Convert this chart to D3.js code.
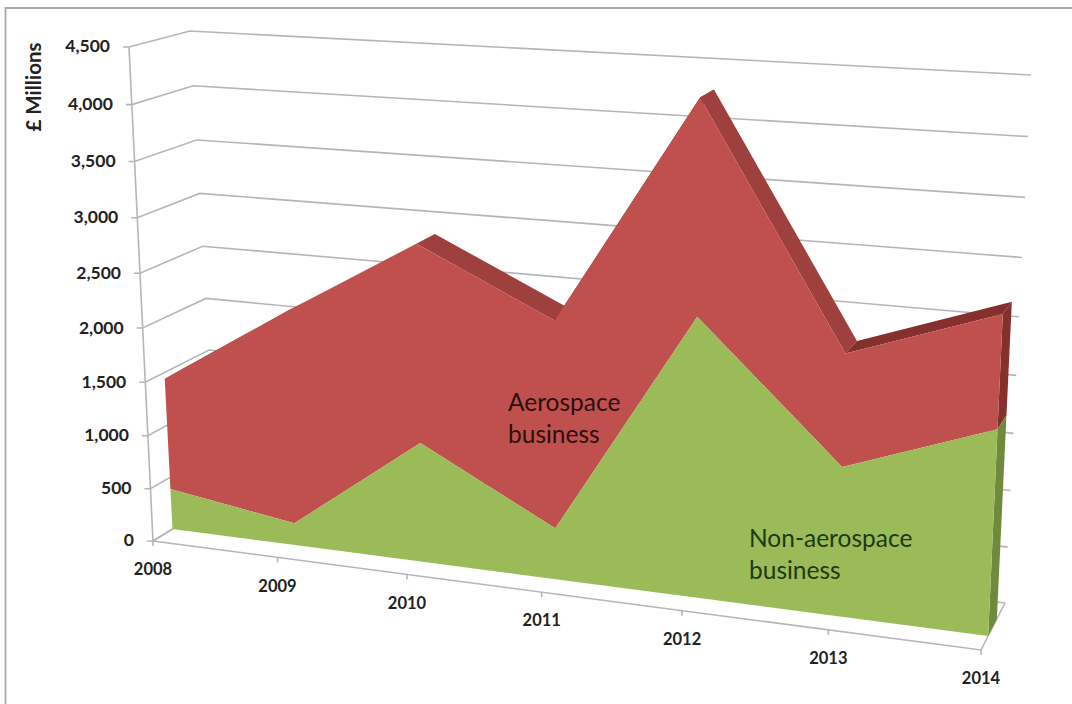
<!DOCTYPE html>
<html><head><meta charset="utf-8">
<style>html,body{margin:0;padding:0;background:#fff}svg{display:block}</style>
<script src="https://cdn.jsdelivr.net/npm/d3@7"></script></head>
<body><svg id="c" width="1072" height="704"></svg>
<script>
const years=[2008,2009,2010,2011,2012,2013,2014];
const nonAerospace=[389,209,1105,468,2475,1310,1770];
const aerospace=[1053,1976,1790,1860,1835,970,955];
const valueTicks=[0,500,1000,1500,2000,2500,3000,3500,4000,4500];
const axisTitle="£ Millions";
const noteAero=["Aerospace","business"];
const noteNon=["Non-aerospace","business"];

const colors={red:"#C0504D",redFall:"#9E403D",redRise:"#86302E",redSide:"#86302E",green:"#9BBB59",greenSide:"#6F8A3C",grid:"#B4B6B8",text:"#222"};
const font="Lato, 'Open Sans', sans-serif";

const corners={
 p000:[153,541],p100:[981,650],p010:[129,47],p110:[1005,100],
 p001:[218,501],p101:[1005,603],p011:[190,31],p111:[1031,75]};
const depthFront=0.3, depthBack=0.66;

const warp=r=>t=>t/(t+(1-t)*r);
const xBase=d3.scalePoint().domain(years).range([0,1]);
const yBase=d3.scaleLinear().domain([0,4500]).range([0,1]);
const xScale=y=>warp(1.13)(xBase(y));
const yScale=v=>warp(1.056)(yBase(v));
const mix=(a,b,t)=>[a[0]+(b[0]-a[0])*t,a[1]+(b[1]-a[1])*t];
function project(u,v,d){
 const c=corners;
 const f=mix(mix(c.p000,c.p100,u),mix(c.p010,c.p110,u),v);
 const b=mix(mix(c.p001,c.p101,u),mix(c.p011,c.p111,u),v);
 return mix(f,b,d);
}
const rows=years.map((y,i)=>({year:y,non:nonAerospace[i],aero:aerospace[i]}));
const stacked=d3.stack().keys(["non","aero"])(rows);
const line=d3.line();
const svg=d3.select("#c");

// picture frame
svg.append("path").attr("d",line([[5.5,704],[5.5,8],[1072,8]])).attr("fill","none").attr("stroke","#a9a9a9").attr("stroke-width",1.8);

// walls
const grid=svg.append("g").attr("fill","none").attr("stroke",colors.grid).attr("stroke-width",1.6);
grid.selectAll("path.wall").data(valueTicks).join("path").attr("class","wall")
 .attr("d",v=>{const s=yScale(v);const a=project(0,s,0);return line([[a[0]-6,a[1]],a,project(0,s,1),project(1,s,1)]);});
grid.append("path").attr("d",line([project(0,0,0),project(0,1,0)]));
grid.append("path").attr("d",line([project(0,0,1),project(0,0,0),project(1,0,0),project(1,0,1)]));
grid.selectAll("path.xt").data(years).join("path").attr("class","xt")
 .attr("d",y=>{const a=project(xScale(y),0,0);return line([a,[a[0],a[1]+5]]);});

// area: depth faces first
const faces=svg.append("g");
const upper=stacked[1];
for(let i=0;i<years.length-1;i++){
 const u0=xScale(years[i]),u1=xScale(years[i+1]);
 const v0=yScale(upper[i][1]),v1=yScale(upper[i+1][1]);
 faces.append("path").attr("fill",v1>v0?colors.redRise:colors.redFall)
  .attr("d",line([project(u0,v0,depthFront),project(u1,v1,depthFront),project(u1,v1,depthBack),project(u0,v0,depthBack)])+"Z");
}
const lastI=years.length-1;
function side(v0,v1,fill){
 faces.append("path").attr("fill",fill)
  .attr("d",line([project(1,v0,depthFront),project(1,v1,depthFront),project(1,v1,depthBack),project(1,v0,depthBack)])+"Z");
}
side(yScale(stacked[0][lastI][1]),yScale(upper[lastI][1]),colors.redSide);
side(0,yScale(stacked[0][lastI][1]),colors.greenSide);

// front faces
function face(series,fill){
 const pts=series.map((d,i)=>{
  const u=xScale(years[i]);
  return {lo:project(u,yScale(d[0]),depthFront),hi:project(u,yScale(d[1]),depthFront)};
 });
 svg.append("path").attr("fill",fill)
  .attr("d",line(pts.map(p=>p.hi).concat(pts.map(p=>p.lo).reverse()))+"Z");
}
face(stacked[1],colors.red);
face(stacked[0],colors.green);

// labels
const labels=svg.append("g").attr("font-family",font).attr("font-weight",700).attr("fill",colors.text);
labels.selectAll("text.v").data(valueTicks).join("text").attr("class","v")
 .attr("font-size",17.5).attr("text-anchor","end").attr("dominant-baseline","middle")
 .attr("x",v=>project(0,yScale(v),0)[0]-19).attr("y",v=>project(0,yScale(v),0)[1]+1)
 .text(d3.format(","));
labels.selectAll("text.y").data(years).join("text").attr("class","y")
 .attr("font-size",16.5).attr("text-anchor","middle").attr("dominant-baseline","middle")
 .attr("x",y=>project(xScale(y),0,0)[0]).attr("y",y=>project(xScale(y),0,0)[1]+30)
 .text(d=>d);
labels.append("text").attr("transform","translate(41,87) rotate(-90)").attr("text-anchor","middle").attr("font-size",20.5).text(axisTitle);

function note(lines,x,y,fill){
 svg.append("g").attr("font-family",font).attr("font-size",24.5).attr("fill",fill)
  .selectAll("text").data(lines).join("text").attr("x",x).attr("y",(d,i)=>y+i*32).text(d=>d);
}
note(noteAero,508,411,"#2a0f0e");
note(noteNon,749,547,"#1c3a12");
</script></body></html>
